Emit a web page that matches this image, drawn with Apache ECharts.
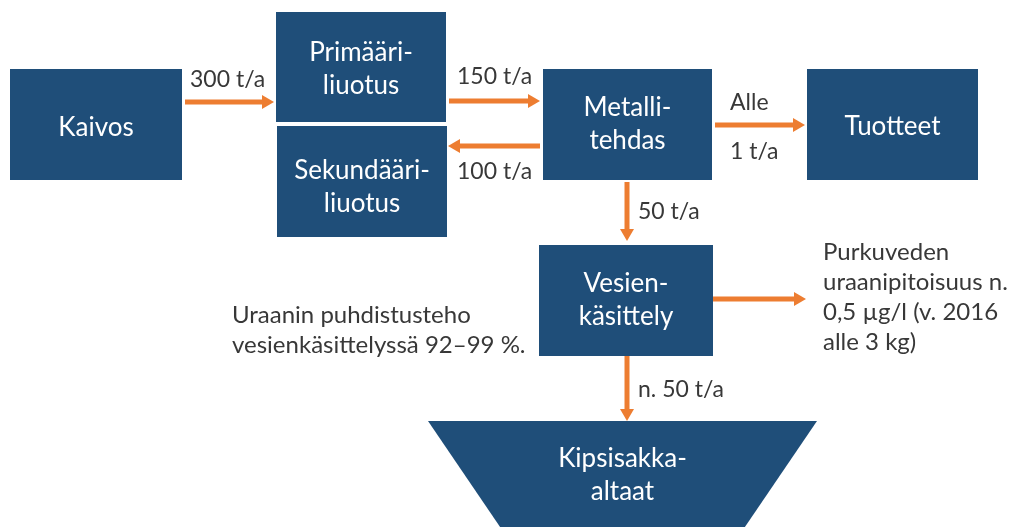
<!DOCTYPE html>
<html>
<head>
<meta charset="utf-8">
<script src="https://cdn.jsdelivr.net/npm/echarts@6/dist/echarts.min.js"></script>
<style>
  html, body { margin: 0; padding: 0; background: #fff; }
  #chart { width: 1010px; height: 527px; }
</style>
</head>
<body>
<div id="chart"></div>
<script>
// Process steps (box texts)
const nodeNames = ['Kaivos', 'Primääri-\nliuotus', 'Sekundääri-\nliuotus', 'Metalli-\ntehdas', 'Tuotteet', 'Vesien-\nkäsittely', 'Kipsisakka-\naltaat'];

// Uranium flows between the steps (t/a) and their labels
const flowFrom = [0, 1, 3, 3, 3, 5, 5];
const flowTo = [1, 3, 2, 4, 5, 7, 6];
const flowValues = [300, 150, 100, 1, 50, null, 50];
const flowLabels = ['300 t/a', '150 t/a', '100 t/a', 'Alle\n1 t/a', '50 t/a', '', 'n. 50 t/a'];

// Free text notes
const noteTexts = [
    'Uraanin puhdistusteho\nvesienkäsittelyssä 92–99 %.',
    'Purkuveden\nuraanipitoisuus n.\n0,5 µg/l (v. 2016\nalle 3 kg)'
];

// ---- layout (pixel units of the drawing, y grows downwards) ----
// box: [x0, y0, x1, y1, text offset y]
const boxLayout = [
    [10, 69, 182, 180, 3],
    [276, 12, 446, 122, 2],
    [277, 126, 447, 237, 6],
    [543, 69, 712, 180, 0],
    [807, 69, 978, 180, 2],
    [539, 245, 713, 356, 0],
    [428, 421, 817, 560, -15]
];
// arrow: [x start, y start, x tip, y tip, label x, label y, label align]
const arrowLayout = [
    [185, 102, 274, 102, 190, 80, 'left'],
    [449, 101, 540, 101, 457, 77, 'left'],
    [540, 146, 448, 146, 457, 172, 'left'],
    [715, 125, 805, 125, 730, 127, 'left'],
    [627, 182, 627, 241, 638, 212, 'left'],
    [713, 299, 806, 299, 0, 0, 'left'],
    [627, 356, 627, 421, 638, 390, 'left']
];
// note: [x, y center]
const noteLayout = [[232, 330], [823, 297]];

const boxColor = '#1f4e79';
const arrowColor = '#ed7d31';
const textColor = '#383838';
const fontFamily = 'Lato, "Open Sans", sans-serif';

const chart = echarts.init(document.getElementById('chart'));

const boxData = nodeNames.map((name, i) => boxLayout[i].concat([i]));
const arrowData = flowFrom.map((f, i) => arrowLayout[i].slice(0, 4).concat([i]));
const noteData = noteTexts.map((t, i) => noteLayout[i].concat([i]));

chart.setOption({
    animation: false,
    grid: { left: 0, right: 0, top: 0, bottom: 0 },
    xAxis: { type: 'value', min: 0, max: 1010, show: false },
    yAxis: { type: 'value', min: 0, max: 527, inverse: true, show: false },
    series: [
        {
            type: 'custom',
            name: 'boxes',
            data: boxData,
            clip: true,
            renderItem: (params, api) => {
                const i = api.value(5);
                const p0 = api.coord([api.value(0), api.value(1)]);
                const p1 = api.coord([api.value(2), api.value(3)]);
                const cx = (p0[0] + p1[0]) / 2;
                let shape;
                let cy = (p0[1] + p1[1]) / 2 + api.value(4);
                if (i === 6) {
                    // funnel shaped basin
                    const taper = (p1[1] - p0[1]) * 0.68;
                    shape = {
                        type: 'polygon',
                        shape: { points: [[p0[0], p0[1]], [p1[0], p0[1]], [p1[0] - taper, p1[1]], [p0[0] + taper, p1[1]]] },
                        style: { fill: boxColor }
                    };
                } else {
                    shape = {
                        type: 'rect',
                        shape: { x: p0[0], y: p0[1], width: p1[0] - p0[0], height: p1[1] - p0[1] },
                        style: { fill: boxColor }
                    };
                }
                return {
                    type: 'group',
                    children: [
                        shape,
                        {
                            type: 'text',
                            style: {
                                text: nodeNames[i],
                                x: cx, y: cy,
                                align: 'center', verticalAlign: 'middle',
                                fill: '#ffffff',
                                font: '26px ' + fontFamily,
                                lineHeight: 33
                            }
                        }
                    ]
                };
            }
        },
        {
            type: 'custom',
            name: 'flows',
            data: arrowData,
            renderItem: (params, api) => {
                const i = api.value(4);
                const a = api.coord([api.value(0), api.value(1)]);
                const b = api.coord([api.value(2), api.value(3)]);
                const len = Math.hypot(b[0] - a[0], b[1] - a[1]);
                const ux = (b[0] - a[0]) / len, uy = (b[1] - a[1]) / len;
                const headLen = 12, headW = 7;
                const base = [b[0] - ux * headLen, b[1] - uy * headLen];
                const children = [
                    {
                        type: 'line',
                        shape: { x1: a[0], y1: a[1], x2: base[0] + ux, y2: base[1] + uy },
                        style: { stroke: arrowColor, lineWidth: 5 }
                    },
                    {
                        type: 'polygon',
                        shape: { points: [b, [base[0] - uy * headW, base[1] + ux * headW], [base[0] + uy * headW, base[1] - ux * headW]] },
                        style: { fill: arrowColor }
                    }
                ];
                if (flowLabels[i]) {
                    const lp = api.coord([arrowLayout[i][4], arrowLayout[i][5]]);
                    children.push({
                        type: 'text',
                        style: {
                            text: flowLabels[i],
                            x: lp[0], y: lp[1],
                            align: arrowLayout[i][6], verticalAlign: 'middle',
                            fill: textColor,
                            font: '23px ' + fontFamily,
                            lineHeight: i === 3 ? 49 : 30
                        }
                    });
                }
                return { type: 'group', children: children };
            }
        },
        {
            type: 'custom',
            name: 'notes',
            data: noteData,
            renderItem: (params, api) => {
                const i = api.value(2);
                const p = api.coord([api.value(0), api.value(1)]);
                return {
                    type: 'text',
                    style: {
                        text: noteTexts[i],
                        x: p[0], y: p[1],
                        align: 'left', verticalAlign: 'middle',
                        fill: textColor,
                        font: '24px ' + fontFamily,
                        lineHeight: 30
                    }
                };
            }
        }
    ]
});
</script>
</body>
</html>
